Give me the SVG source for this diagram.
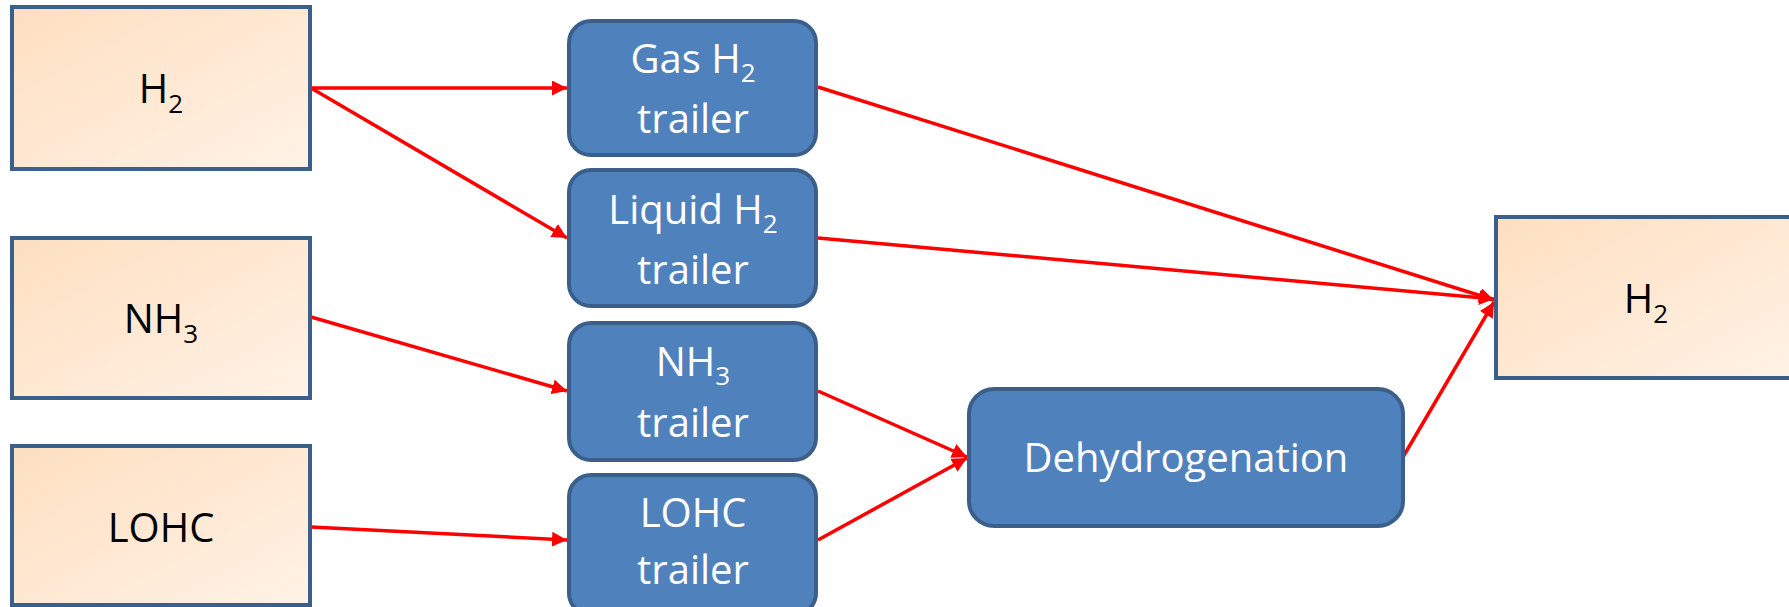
<svg xmlns="http://www.w3.org/2000/svg" width="1789" height="607" viewBox="0 0 1789 607">
<style>
.src{stroke:#3A5F8B;stroke-width:4;fill:url(#peach)}
.blk{stroke:#3A5F8B;stroke-width:4;fill:#4F81BD}
.t{font-family:"Open Sans","Liberation Sans",sans-serif;font-size:40px;text-anchor:middle}
.dk{fill:#000}
.wt{fill:#fff}
.sub{font-size:26px}
.c{stroke:#FF0000;stroke-width:3.5;fill:none;marker-end:url(#ah)}
</style>
<defs>
<linearGradient id="peach" x1="0" y1="0" x2="1" y2="1">
<stop offset="0" stop-color="#FDDFBF"/>
<stop offset="1" stop-color="#FFF2E6"/>
</linearGradient>
<marker id="ah" markerUnits="userSpaceOnUse" markerWidth="16" markerHeight="15" refX="15" refY="7.5" orient="auto">
<path d="M0,0 L15,7.5 L0,15 z" fill="#FF0000"/>
</marker>
</defs>
<rect width="1789" height="607" fill="#fff"/>
<g id="connectors">
<line class="c" x1="311" y1="88" x2="567" y2="88"/>
<line class="c" x1="311" y1="88" x2="567" y2="238"/>
<line class="c" x1="311" y1="317" x2="567" y2="391"/>
<line class="c" x1="311" y1="527" x2="567" y2="540"/>
<line class="c" x1="818" y1="87" x2="1494" y2="300"/>
<line class="c" x1="818" y1="238" x2="1494" y2="299"/>
<line class="c" x1="818" y1="391" x2="967" y2="457"/>
<line class="c" x1="818" y1="540" x2="967" y2="458"/>
<line class="c" x1="1403" y1="457" x2="1494" y2="302"/>
</g>
<g id="src-h2">
<rect class="src" x="12" y="7" width="298" height="162"/>
<text class="t dk" x="161" y="103">H<tspan class="sub" dy="10">2</tspan></text>
</g>
<g id="src-nh3">
<rect class="src" x="12" y="238" width="298" height="160"/>
<text class="t dk" x="161" y="333">NH<tspan class="sub" dy="10">3</tspan></text>
</g>
<g id="src-lohc">
<rect class="src" x="12" y="446" width="298" height="159"/>
<text class="t dk" x="161" y="542">LOHC</text>
</g>
<g id="gas-trailer">
<rect class="blk" x="569" y="21" width="247" height="134" rx="22"/>
<text class="t wt" x="693" y="73">Gas H<tspan class="sub" dy="9">2</tspan></text>
<text class="t wt" x="693" y="133">trailer</text>
</g>
<g id="liquid-trailer">
<rect class="blk" x="569" y="170" width="247" height="136" rx="22"/>
<text class="t wt" x="693" y="224">Liquid H<tspan class="sub" dy="9">2</tspan></text>
<text class="t wt" x="693" y="284">trailer</text>
</g>
<g id="nh3-trailer">
<rect class="blk" x="569" y="323" width="247" height="137" rx="22"/>
<text class="t wt" x="693" y="376">NH<tspan class="sub" dy="9">3</tspan></text>
<text class="t wt" x="693" y="437">trailer</text>
</g>
<g id="lohc-trailer">
<rect class="blk" x="569" y="475" width="247" height="140" rx="22"/>
<text class="t wt" x="693" y="527">LOHC</text>
<text class="t wt" x="693" y="584">trailer</text>
</g>
<g id="dehydrogenation">
<rect class="blk" x="969" y="389" width="434" height="137" rx="25"/>
<text class="t wt" x="1186" y="472">Dehydrogenation</text>
</g>
<g id="dst-h2">
<rect class="src" x="1496" y="217" width="300" height="161"/>
<text class="t dk" x="1646" y="313">H<tspan class="sub" dy="10">2</tspan></text>
</g>
</svg>
